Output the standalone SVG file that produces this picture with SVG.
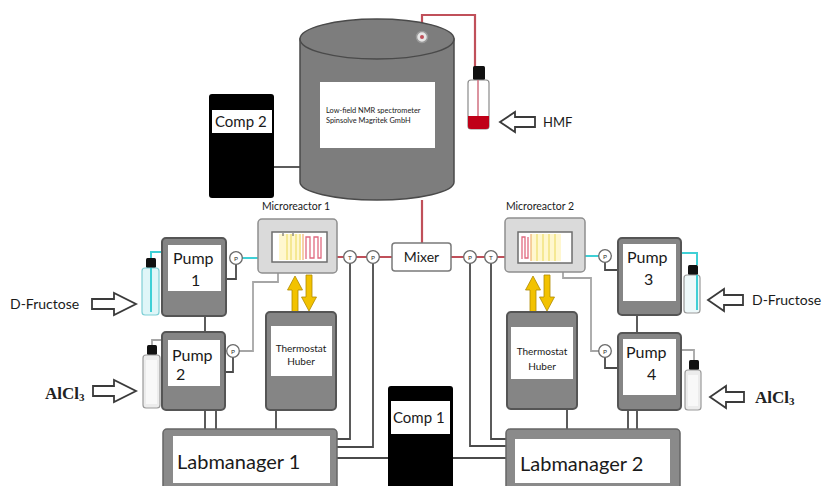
<svg xmlns="http://www.w3.org/2000/svg" width="824" height="486" viewBox="0 0 824 486">
  <defs>
    <style>
      text { font-family: Lato, "Open Sans", "Liberation Sans", sans-serif; fill: #1a1a1a; }
      .unit { fill: #858585; stroke: #555; stroke-width: 2; }
      .panel { fill: #fff; stroke: none; }
      .mr { fill: #dadada; stroke: #8f8f8f; stroke-width: 1.5; }
      .mrin { fill: #fff; stroke: #6e6e6e; stroke-width: 1.5; }
      .comp { fill: #000; }
      .wire { fill: none; stroke: #4a4a4a; stroke-width: 1.8; }
      .wire-lt { fill: none; stroke: #a6a6a6; stroke-width: 1.8; }
      .red { fill: none; stroke: #c0505a; stroke-width: 2.2; }
      .cyan { fill: none; stroke: #3fd0d6; stroke-width: 2; }
      .gauge { fill: #fff; stroke: #6a6a6a; stroke-width: 1.3; }
      .glbl { font-size: 6.5px; text-anchor: middle; fill: #333; }
      .harrow { fill: #fff; stroke: #3a3a3a; stroke-width: 1.8; stroke-linejoin: miter; }
      .yarrow { fill: #f2c200; stroke: #b08a00; stroke-width: 0.8; }
      .cap { fill: #111; }
      .pump-t { font-size: 16px; }
      .feed { font-size: 14px; }
      .salt { font-family: "Liberation Serif", "Times New Roman", serif; font-size: 17px; font-weight: bold; fill: #222; }
    </style>
  </defs>

  <!-- connectors -->
  <g id="connectors">
    <!-- computer 2 to spectrometer -->
    <path class="wire" d="M274,167 H300" stroke-width="1.4"/>
    <!-- spectrometer feed line down to mixer -->
    <path class="red" d="M422,200 V243"/>
    <!-- HMF flask tube up to spectrometer port -->
    <path class="red" d="M422,32 V15 H475 V68"/>

    <!-- left feed, pump 1 -->
    <path class="cyan" d="M151,258 V252 H162"/>
    <path class="cyan" d="M242,258 H258"/>
    <path class="wire" d="M236,264 V279 H226"/>
    <!-- left feed, pump 2 -->
    <path class="wire-lt" d="M152,345 V340 H162"/>
    <path class="wire" d="M233,357 V372 H225"/>
    <path class="wire-lt" d="M239,351 H253 V282 H278 V273"/>

    <!-- reactor 1 outlet, sensors, mixer -->
    <path class="red" d="M337,257 H344 M356,257 H367 M379,257 H392"/>
    <path class="wire" d="M350,263 V439 H337"/>
    <path class="wire" d="M373,263 V447 H337"/>
    <!-- mixer to reactor 2 -->
    <path class="red" d="M451,257 H464 M476,257 H485 M497,257 H505"/>
    <path class="wire" d="M470,263 V446 H506"/>
    <path class="wire" d="M491,263 V439 H506"/>

    <!-- right feed, pump 3 -->
    <path class="cyan" d="M585,256 H599"/>
    <path class="wire" d="M605,262 V270 H618"/>
    <path class="cyan" d="M681,253 H697 V265"/>
    <!-- right feed, pump 4 -->
    <path class="wire" d="M605,357 V368 H618"/>
    <path class="wire-lt" d="M599,351 H591 V278 H563 V272"/>
    <path class="wire-lt" d="M681,350 H694 V360"/>

    <!-- pump stacks -->
    <path class="wire" d="M205,316 V332"/>
    <path class="wire" d="M637,315 V333"/>
    <!-- units down to lab managers -->
    <path class="wire" d="M205,410 V429 M216,410 V429 M276,411 V429"/>
    <path class="wire" d="M567,409 V429 M628,410 V429 M637,410 V429"/>
    <!-- lab managers to computer 1 -->
    <path class="wire" d="M337,458 H388 M453,458 H506"/>

    <!-- pressure / temperature gauges -->
    <circle class="gauge" cx="236" cy="258" r="6.3"/>
    <text class="glbl" x="236" y="260.5">P</text>
    <circle class="gauge" cx="233" cy="351" r="6.3"/>
    <text class="glbl" x="233" y="353.5">P</text>
    <circle class="gauge" cx="350" cy="257" r="6.3"/>
    <text class="glbl" x="350" y="259.5">T</text>
    <circle class="gauge" cx="373" cy="257" r="6.3"/>
    <text class="glbl" x="373" y="259.5">P</text>
    <circle class="gauge" cx="470" cy="257" r="6.3"/>
    <text class="glbl" x="470" y="259.5">P</text>
    <circle class="gauge" cx="491" cy="257" r="6.3"/>
    <text class="glbl" x="491" y="259.5">T</text>
    <circle class="gauge" cx="605" cy="256" r="6.3"/>
    <text class="glbl" x="605" y="258.5">P</text>
    <circle class="gauge" cx="605" cy="351" r="6.3"/>
    <text class="glbl" x="605" y="353.5">P</text>
  </g>

  <!-- NMR spectrometer -->
  <g id="nmr">
    <path d="M300,39 V182 A77,18 0 0 0 454,182 V39 Z" fill="#7d7d7d" stroke="#4a4a4a" stroke-width="1.5"/>
    <ellipse cx="377" cy="39" rx="77" ry="20" fill="#7d7d7d" stroke="#4a4a4a" stroke-width="1.5"/>
    <circle cx="422" cy="37" r="5.5" fill="#e6e6e6" stroke="#999" stroke-width="1.5"/>
    <circle cx="422" cy="37" r="2" fill="#c0505a"/>
    <rect x="320" y="82" width="115" height="66" fill="#fff"/>
    <text x="326" y="113" font-size="7.4" fill="#444">Low-field NMR spectrometer</text>
    <text x="326" y="123" font-size="7.4" fill="#444">Spinsolve Magritek GmbH</text>
  </g>

  <!-- HMF flask -->
  <g id="hmf">
    <rect x="473" y="66" width="12" height="14" rx="1.5" class="cap"/>
    <rect x="468" y="80" width="21" height="49" rx="3" fill="#fff" stroke="#8a8a8a" stroke-width="1.2"/>
    <path d="M478,80 V116" stroke="#d07080" stroke-width="1.5"/>
    <path d="M468,116 H489 V126 Q489,129 486,129 H471 Q468,129 468,126 Z" fill="#c00018"/>
    <path class="harrow" d="M500,122 L515,112 V117 H535 V127 H515 V132 Z"/>
    <text x="543" y="127" font-size="13">HMF</text>
  </g>

  <!-- Computer 2 -->
  <g id="comp2">
    <rect x="209" y="94" width="65" height="104" rx="3" class="comp"/>
    <rect x="212" y="110" width="60" height="23" class="panel"/>
    <text x="215" y="127" font-size="15">Comp 2</text>
  </g>

  <!-- Microreactor 1 -->
  <g id="microreactor1">
    <text x="296" y="210" font-size="10.5" text-anchor="middle" fill="#555">Microreactor 1</text>
    <rect x="258" y="219" width="79" height="54" rx="4" class="mr"/>
    <rect x="272" y="232" width="55" height="30" class="mrin"/>
    <rect x="279" y="234" width="22" height="26" fill="#fff7cf"/>
    <path d="M287,234 V260 M291,234 V260 M296,234 V260 M300,234 V260" stroke="#f1e27a" stroke-width="1.4"/>
    <path d="M303,234 V260" stroke="#f0b070" stroke-width="1.2"/>
    <path d="M306,259 V237 H310 V258 H314 V237 H318 V258 H321 V237" fill="none" stroke="#e06a80" stroke-width="1.3"/>
    <path d="M283,233 V236 M293,233 V236" stroke="#555" stroke-width="1"/>
    <path class="yarrow" d="M292,312 V290 H287.5 L295,276 L302.5,290 H298 V312 Z"/>
    <path class="yarrow" d="M306,275 V297 H301.5 L309,311 L316.5,297 H312 V275 Z"/>
  </g>

  <!-- Mixer -->
  <g id="mixer">
    <rect x="392" y="243" width="59" height="28" rx="3" fill="#fff" stroke="#7a7a7a" stroke-width="1.5"/>
    <text x="421.5" y="262" font-size="14" text-anchor="middle">Mixer</text>
  </g>

  <!-- Microreactor 2 -->
  <g id="microreactor2">
    <text x="540" y="210" font-size="10.5" text-anchor="middle" fill="#555">Microreactor 2</text>
    <rect x="505" y="218" width="80" height="54" rx="4" class="mr"/>
    <rect x="518" y="232" width="54" height="31" class="mrin"/>
    <rect x="531" y="234" width="30" height="27" fill="#fff7cf"/>
    <path d="M537,234 V261 M543,234 V261 M549,234 V261 M555,234 V261" stroke="#f1e27a" stroke-width="1.4"/>
    <path d="M531,234 V261" stroke="#f0b070" stroke-width="1.2"/>
    <path d="M522,259 V237 H525 V258 H528 V237" fill="none" stroke="#e06a80" stroke-width="1.3"/>
    <path class="yarrow" d="M530,312 V290 H525.5 L533,276 L540.5,290 H536 V312 Z"/>
    <path class="yarrow" d="M544,275 V297 H539.5 L547,311 L554.5,297 H550 V275 Z"/>
  </g>

  <!-- Pump 1 with D-fructose feed -->
  <g id="pump1">
    <rect x="162" y="238" width="64" height="78" rx="4" class="unit"/>
    <rect x="168" y="245" width="53" height="46" class="panel"/>
    <text class="pump-t" x="173" y="264">Pump</text>
    <text class="pump-t" x="191" y="286">1</text>
    <rect x="146" y="258" width="10" height="10" rx="1.5" class="cap"/>
    <rect x="142" y="268" width="17" height="47" rx="3" fill="#dff6f8" stroke="#7fcfd6" stroke-width="1.2"/>
    <path class="cyan" d="M151,268 V312" stroke-width="1.5"/>
    <path class="harrow" d="M92,299 H114 V293 L136,304 L114,315 V309 H92 Z"/>
    <text class="feed" x="10" y="309">D-Fructose</text>
  </g>

  <!-- Pump 2 with AlCl3 feed -->
  <g id="pump2">
    <rect x="162" y="332" width="63" height="78" rx="4" class="unit"/>
    <rect x="168" y="340" width="52" height="46" class="panel"/>
    <text class="pump-t" x="172" y="361">Pump</text>
    <text class="pump-t" x="176" y="380">2</text>
    <rect x="147" y="345" width="10" height="10" rx="1.5" class="cap"/>
    <rect x="143" y="355" width="17" height="53" rx="3" fill="#ececec" stroke="#9a9a9a" stroke-width="1.2"/>
    <rect x="146" y="360" width="11" height="44" fill="#f8f8f8"/>
    <path class="harrow" d="M93,386 H114 V380 L136,391 L114,402 V396 H93 Z"/>
    <text class="salt" x="45" y="399">AlCl<tspan font-size="11" dy="2">3</tspan></text>
  </g>

  <!-- Thermostat 1 -->
  <g id="thermostat1">
    <rect x="266" y="312" width="70" height="98" rx="4" class="unit"/>
    <rect x="271" y="326" width="61" height="50" class="panel"/>
    <text x="301" y="352" font-size="10" text-anchor="middle">Thermostat</text>
    <text x="301" y="365" font-size="10" text-anchor="middle">Huber</text>
  </g>

  <!-- Thermostat 2 -->
  <g id="thermostat2">
    <rect x="507" y="312" width="70" height="97" rx="4" class="unit"/>
    <rect x="511" y="327" width="62" height="52" class="panel"/>
    <text x="542" y="355" font-size="10" text-anchor="middle">Thermostat</text>
    <text x="542" y="370" font-size="10" text-anchor="middle">Huber</text>
  </g>

  <!-- Pump 3 with D-fructose feed -->
  <g id="pump3">
    <rect x="618" y="238" width="63" height="77" rx="4" class="unit"/>
    <rect x="623" y="244" width="53" height="57" class="panel"/>
    <text class="pump-t" x="627" y="263">Pump</text>
    <text class="pump-t" x="644" y="285">3</text>
    <rect x="688" y="265" width="10" height="10" rx="1.5" class="cap"/>
    <rect x="684" y="275" width="16" height="38" rx="3" fill="#eef9fa" stroke="#9a9a9a" stroke-width="1.2"/>
    <path class="cyan" d="M697,275 V310" stroke-width="1.6"/>
    <path class="harrow" d="M708,300 L724,289 V295 H743 V305 H724 V311 Z"/>
    <text class="feed" x="752" y="305">D-Fructose</text>
  </g>

  <!-- Pump 4 with AlCl3 feed -->
  <g id="pump4">
    <rect x="618" y="333" width="63" height="77" rx="4" class="unit"/>
    <rect x="623" y="339" width="53" height="56" class="panel"/>
    <text class="pump-t" x="626" y="358">Pump</text>
    <text class="pump-t" x="647" y="380">4</text>
    <rect x="689" y="360" width="10" height="10" rx="1.5" class="cap"/>
    <rect x="685" y="370" width="16" height="40" rx="3" fill="#ececec" stroke="#9a9a9a" stroke-width="1.2"/>
    <rect x="688" y="375" width="10" height="31" fill="#f8f8f8"/>
    <path class="harrow" d="M710,397 L726,386 V392 H744 V402 H726 V408 Z"/>
    <text class="salt" x="755" y="403">AlCl<tspan font-size="11" dy="2">3</tspan></text>
  </g>

  <!-- Lab manager 1 -->
  <g id="labmanager1">
    <rect x="163" y="429" width="174" height="64" rx="4" fill="#8a8a8a" stroke="#666" stroke-width="1.5"/>
    <rect x="173" y="436" width="157" height="47" class="panel"/>
    <text x="177" y="469" font-size="20">Labmanager 1</text>
  </g>

  <!-- Computer 1 -->
  <g id="comp1">
    <rect x="388" y="386" width="65" height="106" rx="3" class="comp"/>
    <rect x="391" y="401" width="59" height="33" class="panel"/>
    <text x="393" y="423" font-size="15">Comp 1</text>
  </g>

  <!-- Lab manager 2 -->
  <g id="labmanager2">
    <rect x="506" y="429" width="174" height="64" rx="4" fill="#8a8a8a" stroke="#666" stroke-width="1.5"/>
    <rect x="515" y="439" width="155" height="44" class="panel"/>
    <text x="520" y="471" font-size="20">Labmanager 2</text>
  </g>
</svg>
